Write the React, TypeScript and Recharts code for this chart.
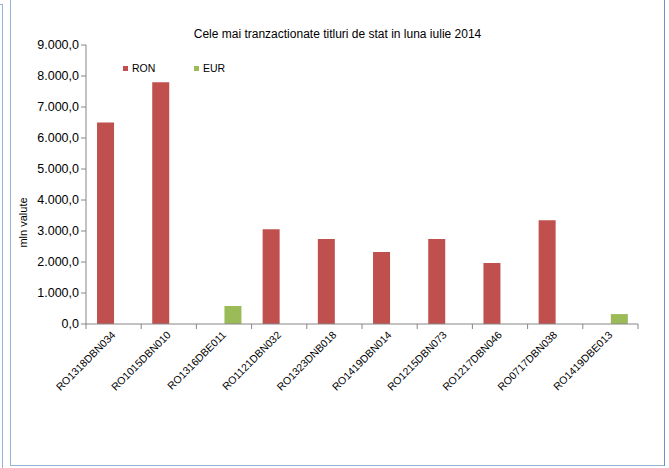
import { BarChart, Bar, XAxis, YAxis } from 'recharts';

const categories = [
  'RO1318DBN034', 'RO1015DBN010', 'RO1316DBE011', 'RO1121DBN032', 'RO1323DNB018',
  'RO1419DBN014', 'RO1215DBN073', 'RO1217DBN046', 'RO0717DBN038', 'RO1419DBE013',
];
const ronValues = [6500, 7800, null, 3060, 2740, 2320, 2740, 1970, 3350, null];
const eurValues = [null, null, 580, null, null, null, null, null, null, 320];
const yTicks = [0, 1000, 2000, 3000, 4000, 5000, 6000, 7000, 8000, 9000];
const series = [
  { key: 'RON', color: '#c0504d' },
  { key: 'EUR', color: '#9bbb59' },
];

const chartData = categories.map((name, i) => ({ name, RON: ronValues[i], EUR: eurValues[i] }));

const FONT = '"Liberation Sans", Arial, sans-serif';
const AXIS = '#868686';

// 9000 -> "9.000,0"
const fmt = (v: number) => {
  const [int, dec] = v.toFixed(1).split('.');
  return `${int.replace(/\B(?=(\d{3})+(?!\d))/g, '.')},${dec}`;
};

function CategoryTick(props: any) {
  const { x, y, payload, index } = props;
  const half = payload?.offset ?? 27.6;
  const last = index === categories.length - 1;
  return (
    <g>
      <line x1={x - half} x2={x - half} y1={y} y2={y + 5} stroke={AXIS} />
      {last && <line x1={x + half} x2={x + half} y1={y} y2={y + 5} stroke={AXIS} />}
      <text
        transform={`translate(${x},${y + 9}) rotate(-45)`}
        textAnchor="end"
        dy="0.35em"
        fontSize={10.5}
        fontFamily={FONT}
        fill="#000"
      >
        {payload.value}
      </text>
    </g>
  );
}

function YLabel(props: any) {
  const { viewBox } = props;
  const cx = viewBox.x + 13;
  const cy = viewBox.y + viewBox.height / 2 + 38;
  return (
    <text
      transform={`translate(${cx},${cy}) rotate(-90)`}
      textAnchor="middle"
      dy="0.35em"
      fontSize={11}
      fontFamily={FONT}
      fill="#000"
    >
      mln  valute
    </text>
  );
}

export default function App() {
  return (
    <div style={{ position: 'absolute', left: 0, top: 0, width: 669, height: 468, background: '#fff' }}>
      <div style={{ position: 'absolute', left: 0, top: 4, width: 2, height: 1, background: '#95b3d7' }} />
      <div style={{ position: 'absolute', left: 2, top: 4, width: 1, height: 464, background: '#95b3d7' }} />
      <div style={{ position: 'absolute', left: 10, top: 0, width: 1, height: 466, background: '#95b3d7' }} />
      <div style={{ position: 'absolute', left: 10, top: 465, width: 655, height: 1, background: '#95b3d7' }} />
      <div style={{ position: 'absolute', left: 664, top: 0, width: 1, height: 466, background: '#6a91c8' }} />

      <div
        style={{
          position: 'absolute', left: 0, top: 27, width: 675, textAlign: 'center',
          fontFamily: FONT, fontSize: 12, color: '#000',
        }}
      >
        Cele mai tranzactionate titluri de stat in luna iulie 2014
      </div>

      <BarChart
        width={669}
        height={468}
        data={chartData}
        margin={{ top: 45, right: 31, bottom: 24, left: 10 }}
        barCategoryGap="20%"
        barGap={0}
        style={{ position: 'absolute', left: 0, top: 0 }}
      >
        <XAxis
          dataKey="name"
          interval={0}
          height={120}
          tickLine={false}
          tickSize={0}
          tickMargin={0}
          axisLine={{ stroke: AXIS }}
          tick={<CategoryTick />}
        />
        <YAxis
          width={76}
          domain={[0, 9000]}
          ticks={yTicks}
          tickFormatter={fmt}
          tickSize={5}
          tickMargin={2}
          axisLine={{ stroke: AXIS }}
          tickLine={{ stroke: AXIS }}
          tick={{ fontSize: 12.5, fill: '#000', fontFamily: FONT }}
          label={{ content: <YLabel /> }}
        />
        {series.map((s) => (
          <Bar key={s.key} dataKey={s.key} fill={s.color} isAnimationActive={false} />
        ))}
      </BarChart>

      <div
        style={{
          position: 'absolute', left: 123, top: 62, display: 'flex',
          fontFamily: FONT, fontSize: 10.5, color: '#000',
        }}
      >
        {series.map((s) => (
          <div key={s.key} style={{ display: 'flex', alignItems: 'center', width: 71 }}>
            <span style={{ width: 5, height: 5, background: s.color, marginRight: 4 }} />
            {s.key}
          </div>
        ))}
      </div>
    </div>
  );
}
